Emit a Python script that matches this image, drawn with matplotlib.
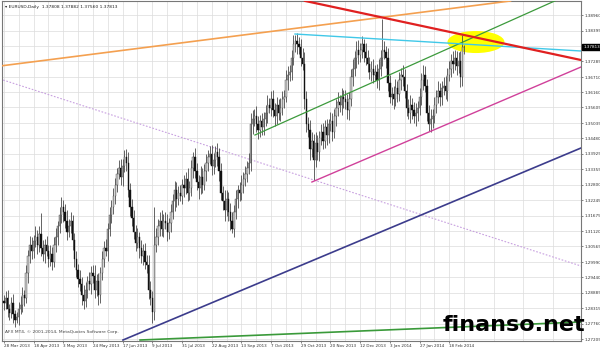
import numpy as np
import matplotlib.pyplot as plt
import matplotlib.transforms as mtransforms
from matplotlib.patches import Ellipse

# EURUSD daily closes (one per bar)
closes = [
    1.2850, 1.2870, 1.2830, 1.2815, 1.2850, 1.2810, 1.2790, 1.2800, 1.2830, 1.2845,
    1.2880, 1.2870, 1.2960, 1.3020, 1.3060, 1.3040, 1.3075, 1.3090, 1.3060, 1.3100,
    1.3050, 1.3030, 1.3060, 1.3040, 1.3010, 1.3030, 1.3000, 1.3060, 1.3090, 1.3130,
    1.3170, 1.3200, 1.3180, 1.3150, 1.3110, 1.3130, 1.3150, 1.3080, 1.3010, 1.2970,
    1.2940, 1.2920, 1.2880, 1.2860, 1.2900, 1.2930, 1.2920, 1.2960, 1.2950, 1.2900,
    1.2930, 1.2880, 1.2960, 1.3010, 1.3050, 1.3040, 1.3120, 1.3170, 1.3200, 1.3240,
    1.3280, 1.3320, 1.3340, 1.3310, 1.3350, 1.3380, 1.3360, 1.3260, 1.3200, 1.3160,
    1.3110, 1.3070, 1.3090, 1.3050, 1.3020, 1.3040, 1.3000, 1.2990, 1.2900, 1.2870,
    1.2820, 1.3060, 1.3090, 1.3130, 1.3150, 1.3120, 1.3150, 1.3140, 1.3110, 1.3140,
    1.3180, 1.3220, 1.3260, 1.3230, 1.3250, 1.3240, 1.3280, 1.3270, 1.3300, 1.3250,
    1.3270, 1.3340, 1.3380, 1.3330, 1.3290, 1.3270, 1.3310, 1.3280, 1.3330, 1.3360,
    1.3380, 1.3390, 1.3350, 1.3370, 1.3400, 1.3380, 1.3330, 1.3250, 1.3220, 1.3190,
    1.3230, 1.3180, 1.3150, 1.3120, 1.3180, 1.3230, 1.3260, 1.3250, 1.3280, 1.3300,
    1.3320, 1.3340, 1.3360, 1.3500, 1.3520, 1.3530, 1.3500, 1.3480, 1.3510, 1.3490,
    1.3520, 1.3540, 1.3570, 1.3560, 1.3590, 1.3550, 1.3530, 1.3570, 1.3540, 1.3560,
    1.3590, 1.3600, 1.3660, 1.3680, 1.3690, 1.3740, 1.3790, 1.3800, 1.3790, 1.3780,
    1.3740, 1.3720, 1.3590, 1.3500, 1.3480, 1.3410, 1.3440, 1.3370, 1.3430, 1.3400,
    1.3450, 1.3470, 1.3440, 1.3490, 1.3460, 1.3500, 1.3510, 1.3470, 1.3530, 1.3560,
    1.3580, 1.3570, 1.3600, 1.3590, 1.3580, 1.3550, 1.3590, 1.3670, 1.3700, 1.3740,
    1.3770, 1.3750, 1.3770, 1.3790, 1.3760, 1.3740, 1.3720, 1.3690, 1.3700, 1.3680,
    1.3690, 1.3660, 1.3700, 1.3740, 1.3770, 1.3760, 1.3740, 1.3650, 1.3600, 1.3610,
    1.3590, 1.3630, 1.3610, 1.3660, 1.3680, 1.3670, 1.3620, 1.3560, 1.3540, 1.3570,
    1.3550, 1.3530, 1.3540, 1.3560, 1.3600, 1.3660, 1.3680, 1.3640, 1.3540, 1.3500,
    1.3520, 1.3530, 1.3570, 1.3600, 1.3620, 1.3600, 1.3630, 1.3640, 1.3620, 1.3680,
    1.3700, 1.3730, 1.3720, 1.3740, 1.3710, 1.3730, 1.3670, 1.3781, 1.37813,
]
first_open = 1.2860

# upper / lower shadow lengths in pips
up_pips = [
    20, 25, 30, 18, 22, 35, 15, 20, 25, 30,
    28, 20, 30, 25, 35, 30, 22, 40, 25, 30,
    78, 30, 25, 35, 20, 30, 25, 30, 35, 20,
    30, 36, 25, 30, 40, 25, 30, 20, 25, 30,
    22, 30, 25, 35, 28, 20, 35, 25, 30, 40,
    25, 30, 20, 30, 25, 35, 20, 30, 25, 30,
    25, 20, 30, 35, 25, 26, 30, 40, 25, 30,
    30, 25, 35, 20, 30, 25, 30, 25, 35, 30,
    25, 140, 35, 25, 30, 40, 25, 30, 35, 20,
    30, 25, 35, 30, 25, 30, 20, 35, 25, 40,
    25, 30, 20, 35, 30, 25, 40, 30, 25, 30,
    25, 30, 35, 25, 20, 30, 35, 30, 25, 40,
    30, 25, 35, 30, 25, 30, 20, 30, 35, 25,
    30, 25, 35, 40, 30, 25, 35, 30, 25, 30,
    25, 30, 35, 25, 30, 35, 25, 30, 20, 35,
    30, 25, 35, 30, 25, 30, 35, 25, 30, 25,
    30, 35, 40, 30, 25, 35, 30, 25, 40, 30,
    25, 30, 35, 25, 30, 20, 35, 30, 25, 30,
    35, 25, 30, 25, 35, 30, 25, 30, 35, 25,
    30, 35, 25, 30, 20, 35, 30, 25, 30, 35,
    25, 30, 35, 30, 110, 30, 25, 35, 30, 25,
    30, 35, 25, 30, 25, 35, 30, 25, 30, 35,
    25, 30, 35, 25, 30, 25, 35, 30, 25, 30,
    35, 25, 30, 25, 35, 30, 25, 30, 35, 25,
    30, 25, 35, 30, 25, 30, 35, 44, 7,
]
dn_pips = [
    25, 20, 30, 25, 20, 30, 25, 11, 30, 20,
    25, 30, 20, 35, 25, 30, 25, 20, 30, 25,
    30, 25, 35, 20, 30, 25, 30, 20, 25, 30,
    25, 30, 35, 25, 30, 20, 25, 35, 30, 25,
    30, 25, 35, 30, 25, 30, 20, 35, 25, 30,
    25, 35, 30, 25, 30, 20, 35, 25, 30, 25,
    30, 25, 20, 30, 35, 25, 30, 25, 35, 30,
    25, 30, 20, 35, 25, 30, 25, 30, 35, 25,
    41, 30, 25, 30, 35, 25, 30, 20, 35, 25,
    30, 25, 35, 30, 25, 20, 30, 35, 25, 30,
    25, 30, 35, 25, 30, 40, 25, 30, 20, 35,
    30, 25, 35, 30, 25, 30, 35, 25, 30, 40,
    25, 30, 35, 15, 30, 25, 35, 30, 25, 30,
    25, 30, 20, 30, 35, 25, 30, 35, 25, 30,
    30, 25, 35, 20, 30, 25, 35, 30, 25, 30,
    25, 30, 20, 35, 25, 30, 25, 30, 35, 25,
    30, 25, 35, 30, 25, 40, 30, 73, 25, 30,
    35, 25, 30, 25, 35, 30, 25, 30, 20, 35,
    30, 25, 35, 30, 25, 30, 35, 25, 30, 25,
    35, 30, 25, 30, 35, 25, 30, 25, 35, 30,
    25, 30, 35, 25, 30, 25, 35, 30, 25, 30,
    35, 25, 30, 25, 35, 30, 25, 30, 20, 35,
    30, 25, 35, 30, 25, 30, 35, 25, 30, 25,
    30, 35, 25, 30, 25, 35, 30, 25, 30, 35,
    25, 30, 35, 25, 30, 25, 35, 30, 25,
]

x_labels = ['28 Mar 2013', '18 Apr 2013', '3 May 2013', '24 May 2013', '17 Jun 2013',
            '9 Jul 2013', '31 Jul 2013', '22 Aug 2013', '13 Sep 2013', '7 Oct 2013',
            '29 Oct 2013', '20 Nov 2013', '12 Dec 2013', '3 Jan 2014', '27 Jan 2014',
            '18 Feb 2014']
x_label_bars = [0, 16, 32, 48, 64, 80, 96, 112, 128, 144, 160, 176, 192, 208, 224, 240]

y_ticks = [1.38960, 1.38395, 1.37840, 1.37285, 1.36710, 1.36160, 1.35605, 1.35035,
           1.34480, 1.33925, 1.33355, 1.32800, 1.32245, 1.31675, 1.31120, 1.30565,
           1.29990, 1.29440, 1.28885, 1.28315, 1.27760, 1.27205]
last_price = 1.37813
header = '\u25be EURUSD,Daily  1.37808 1.37882 1.37560 1.37813'

# drawn trend lines: (bar anchors, price anchors)
orange_line = ([-2, 273], [1.3711, 1.3947])
red_line = ([162.3, 311], [1.3947, 1.37327])
cyan_line = ([156.9, 311], [1.3827, 1.37654])
green_line = ([135.3, 298], [1.34606, 1.39504])
magenta_line = ([166, 311], [1.32901, 1.37074])
navy_line = ([64.2, 311], [1.27169, 1.34135])
green_low_line = ([73.4, 311], [1.27169, 1.27822])
dotted_line = ([-2.08, 311], [1.36638, 1.29854])
ellipse_spot = (254.4, 1.3798, 30.7, 0.0080)

closes = np.array(closes)
opens = np.r_[first_open, closes[:-1]]
highs = np.maximum(opens, closes) + np.array(up_pips) / 10000
lows = np.minimum(opens, closes) - np.array(dn_pips) / 10000
bars = np.arange(len(closes))
up = closes >= opens

fig = plt.figure(figsize=(6, 3.49), dpi=100)
ax = fig.add_axes([2 / 600, 8 / 349, 579 / 600, 340 / 349])

ax.add_patch(Ellipse(ellipse_spot[:2], ellipse_spot[2], ellipse_spot[3],
                     color='#ffff00', lw=0, zorder=1))

ax.vlines(bars, lows, highs, color='#4a4a4a', lw=0.6, zorder=3)
ax.bar(bars[up], (closes - opens)[up], bottom=opens[up], width=0.7,
       color='#c8c8c8', edgecolor='#4a4a4a', lw=0.3, zorder=4)
ax.bar(bars[~up], (opens - closes)[~up], bottom=closes[~up], width=0.7,
       color='#111111', edgecolor='#111111', lw=0.3, zorder=4)

ax.plot(*dotted_line, color='#c8a0e0', lw=0.8, ls=(0, (1.5, 1.5)), zorder=2)
ax.plot(*orange_line, color='#f4a050', lw=1.2, zorder=5)
ax.plot(*navy_line, color='#3c3c8c', lw=1.2, zorder=5)
ax.plot(*green_low_line, color='#3a9a3a', lw=1.2, zorder=5)
ax.plot(*magenta_line, color='#d0409a', lw=1.0, zorder=5)
ax.plot(*green_line, color='#3c9a3c', lw=0.9, zorder=5)
ax.plot(*cyan_line, color='#40c8e8', lw=1.0, zorder=5)
ax.plot(*red_line, color='#e02020', lw=1.6, zorder=5)

ax.set_xlim(-1, 311)
ax.set_ylim(1.27133, 1.39468)

ax.set_xticks(x_label_bars)
ax.set_xticks(np.arange(8, 312, 16), minor=True)
ax.set_xticklabels(x_labels, ha='left', fontsize=3.0, color='#333333')
ax.yaxis.tick_right()
ax.set_yticks(y_ticks)
ax.set_yticklabels(['' if v == 1.37840 else '%.5f' % v for v in y_ticks],
                   fontsize=3.0, color='#333333')
ax.tick_params(length=1.5, width=0.5, pad=0.8, colors='#555555', labelcolor='#333333')
ax.tick_params(which='minor', length=0)
ax.grid(True, which='both', color='#dcdcdc', lw=0.5)
ax.set_axisbelow(True)
for s in ax.spines.values():
    s.set_color('#777777')
    s.set_linewidth(0.8)

trans = mtransforms.blended_transform_factory(ax.transAxes, ax.transData)
ax.text(1.004, last_price, '%.5f' % last_price, transform=trans, fontsize=3.0,
        color='white', va='center', ha='left',
        bbox=dict(boxstyle='square,pad=0.25', fc='black', ec='black'))

ax.text(0.006, 0.988, header, transform=ax.transAxes, fontsize=3.2, va='top', color='#222222')
ax.text(0.005, 0.025, 'AFX MT4, \u00a9 2001-2014, MetaQuotes Software Corp.',
        transform=ax.transAxes, fontsize=3.2, color='#444444')

fig.text(443 / 600, 1 - 331 / 349, 'finanso.net', fontsize=16, weight='bold',
         color='black', ha='left', va='baseline', zorder=10)

fig.savefig('out.png', dpi=100)
